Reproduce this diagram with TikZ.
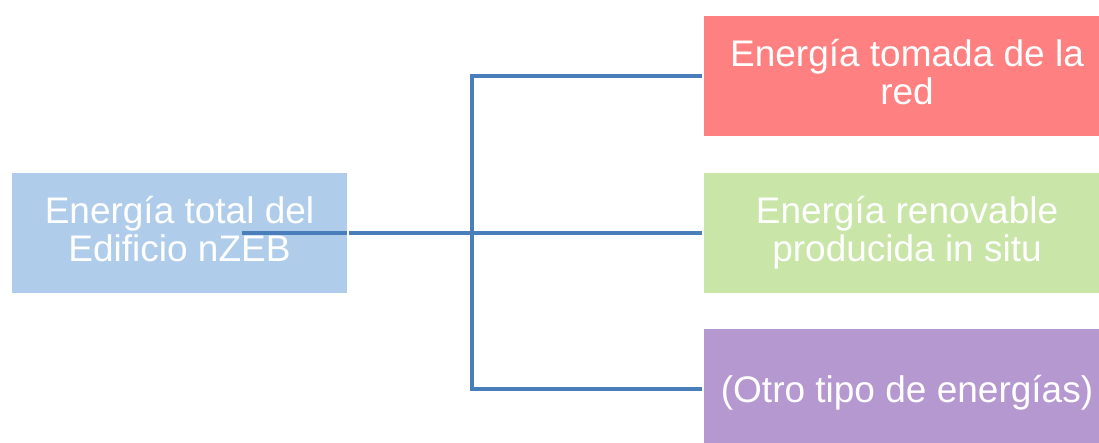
\documentclass[tikz,border=0pt]{standalone}
\usepackage{fontspec}
\setmainfont{Liberation Sans}
\usetikzlibrary{calc}

\definecolor{boxblue}{HTML}{AFCDEA}
\definecolor{boxred}{HTML}{FF8080}
\definecolor{boxgreen}{HTML}{C9E5A8}
\definecolor{boxpurple}{HTML}{B598CF}
\definecolor{linkblue}{HTML}{4A7EBB}

\tikzset{
  panel/.style={rectangle, inner sep=0pt, minimum height=122pt},
  frame/.style={draw=white, line width=1.5pt},
  % base anchor sits on the baseline of the last line
  panel text/.style={text=white, align=center, inner sep=0pt, anchor=base,
    font=\fontsize{37}{38}\selectfont},
  link/.style={draw=linkblue, line width=3.2pt},
}

\begin{document}
\begin{tikzpicture}[x=1pt,y=-1pt]
  \path[use as bounding box] (0,0) rectangle (1099,443);
  \clip (0,0) rectangle (1099,443);
  \fill[white] (0,0) rectangle (1099,443);

  % coloured panels
  \node[panel, fill=boxblue,   minimum width=337pt] (src)   at (179.5,233) {};
  \node[panel, fill=boxred,    minimum width=408pt] (grid)  at (907,76)    {};
  \node[panel, fill=boxgreen,  minimum width=408pt] (renew) at (907,233)   {};
  \node[panel, fill=boxpurple, minimum width=408pt] (other) at (907,389)   {};

  % connectors
  \coordinate (start) at (242,233);
  \coordinate (hub) at (472,233);
  \draw[link] (start) -- (renew.west);
  \draw[link] (grid.west) -- (hub |- grid.west) -- (hub |- other.west) -- (other.west);

  % white outlines of the panels
  \foreach \p in {src,grid,renew,other}
    \draw[frame] (\p.north west) rectangle (\p.south east);

  % labels
  \node[panel text] (srctext)   at ($(src.center)+(0,29)$)   {Energía total del\\Edificio nZEB};
  \node[panel text] (gridtext)  at ($(grid.center)+(0,29)$)  {Energía tomada de la\\red};
  \node[panel text] (renewtext) at ($(renew.center)+(0,29)$) {Energía renovable\\producida in situ};
  \node[panel text] (othertext) at ($(other.center)+(0,13)$) {(Otro tipo de energías)};
\end{tikzpicture}
\end{document}
